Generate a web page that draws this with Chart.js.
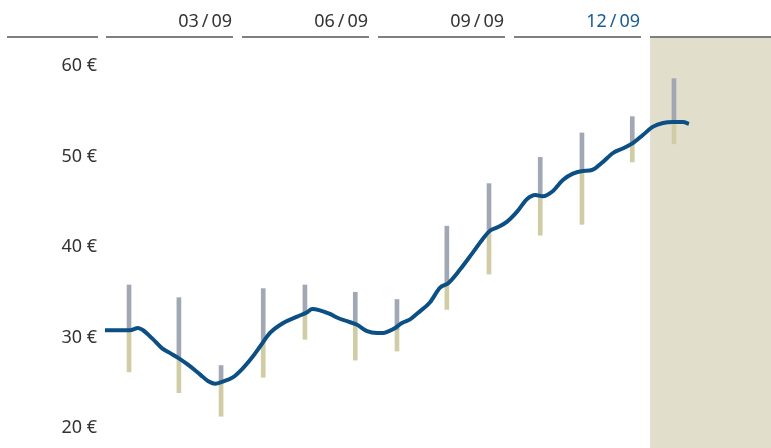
<!DOCTYPE html>
<html>
  <head>
    <meta charset="utf-8" />
    <title>price range</title>
    <script src="https://cdn.jsdelivr.net/npm/chart.js"></script>
    <style>
      html, body { margin: 0; padding: 0; background: #fff; overflow: hidden; }
      canvas { display: block; }
    </style>
  </head>
  <body>
    <canvas id="priceChart" width="771" height="448"></canvas>
    <script type="text/javascript">
      // month position (0 = start of jan 09) and price of the line
      var lineMonths = [0.00, 0.55, 0.73, 0.84, 1.04, 1.26, 1.43, 1.63, 1.83, 2.10, 2.27, 2.43, 2.58, 2.82,
        3.04, 3.26, 3.42, 3.64, 3.93, 4.24, 4.46, 4.57, 4.74, 4.96, 5.14, 5.34, 5.56, 5.78,
        6.00, 6.13, 6.35, 6.55, 6.73, 6.90, 7.17, 7.39, 7.57, 7.83, 8.10, 8.32, 8.49, 8.67, 8.87,
        9.09, 9.31, 9.49, 9.66, 9.86, 10.10, 10.32, 10.54, 10.74, 10.96, 11.21, 11.43, 11.65, 11.87,
        12.09, 12.31, 12.53, 12.75, 12.88]
      var linePrices = [30.8, 30.8, 31.05, 30.8, 29.9, 28.8, 28.3, 27.7, 27.0, 25.9, 25.2, 24.9, 25.1, 25.6,
        26.6, 27.9, 29.0, 30.5, 31.6, 32.3, 32.8, 33.15, 33.0, 32.6, 32.15, 31.8, 31.4, 30.7,
        30.5, 30.5, 30.9, 31.6, 32.0, 32.7, 33.9, 35.5, 36.0, 37.5, 39.3, 40.8, 41.8, 42.2, 42.8,
        43.9, 45.3, 45.75, 45.6, 46.1, 47.4, 48.1, 48.4, 48.5, 49.3, 50.4, 50.9, 51.5, 52.4,
        53.3, 53.7, 53.8, 53.8, 53.6]

      // monthly ranges: high, split, low
      var rangeMonths = [0.53, 1.63, 2.56, 3.49, 4.41, 5.52, 6.44, 7.54, 8.47, 9.60, 10.52, 11.63, 12.55]
      var rangeHigh = [35.8, 34.4, 26.9, 35.4, 35.8, 35.0, 34.2, 42.3, 47.0, 49.9, 52.6, 54.4, 58.6]
      var rangeMid = [30.8, 27.7, 25.1, 29.7, 32.7, 31.4, 30.9, 35.8, 42.0, 45.5, 48.3, 51.5, 53.9]
      var rangeLow = [26.2, 23.9, 21.3, 25.6, 29.8, 27.5, 28.5, 33.1, 37.0, 41.3, 42.5, 49.4, 51.4]

      var quarterLabels = ['03\u2009/\u200909', '06\u2009/\u200909', '09\u2009/\u200909', '12\u2009/\u200909']
      var yTicks = [20, 30, 40, 50, 60]
      var forecastStart = 12

      var linePoints = lineMonths.map(function (m, i) { return { x: m, y: linePrices[i] } })
      var upperBars = rangeMonths.map(function (m, i) { return { x: m, y: [rangeMid[i], rangeHigh[i]] } })
      var lowerBars = rangeMonths.map(function (m, i) { return { x: m, y: [rangeLow[i], rangeMid[i]] } })

      var fontFamily = '"Noto Sans", sans-serif'

      var headerPlugin = {
        id: 'header',
        beforeDatasetsDraw: function (chart) {
          var ctx = chart.ctx
          var x = chart.scales.x
          var area = chart.chartArea
          var x0 = x.getPixelForValue(forecastStart)
          ctx.save()
          ctx.fillStyle = '#e1dfcc'
          ctx.fillRect(x0 + 1, area.top, area.right - x0 - 1, area.bottom - area.top)
          ctx.restore()
        },
        afterDraw: function (chart) {
          var ctx = chart.ctx
          var x = chart.scales.x
          var lineY = 37
          ctx.save()
          ctx.strokeStyle = '#555'
          ctx.lineWidth = 1.5
          ctx.beginPath()
          ctx.moveTo(7, lineY)
          ctx.lineTo(98, lineY)
          for (var q = 0; q < 4; q++) {
            ctx.moveTo(x.getPixelForValue(q * 3) + 1, lineY)
            ctx.lineTo(x.getPixelForValue(q * 3 + 3) - 8, lineY)
          }
          ctx.moveTo(x.getPixelForValue(forecastStart) + 1, lineY)
          ctx.lineTo(chart.width, lineY)
          ctx.stroke()

          ctx.font = '18px ' + fontFamily
          ctx.textAlign = 'right'
          ctx.textBaseline = 'alphabetic'
          for (var q = 0; q < 4; q++) {
            ctx.fillStyle = q == 3 ? '#1a5c96' : '#333'
            ctx.fillText(quarterLabels[q], x.getPixelForValue(q * 3 + 3) - 9, 27)
          }
          ctx.restore()
        }
      }

      var ctx = document.getElementById('priceChart').getContext('2d')
      new Chart(ctx, {
        type: 'line',
        data: {
          datasets: [{
            type: 'line',
            data: linePoints,
            borderColor: '#0b4f85',
            borderWidth: 4,
            pointRadius: 0,
            tension: 0.4,
            cubicInterpolationMode: 'monotone',
            order: 0,
          }, {
            type: 'bar',
            data: upperBars,
            backgroundColor: '#a1a7b3',
            barThickness: 4,
            grouped: false,
            order: 1,
          }, {
            type: 'bar',
            data: lowerBars,
            backgroundColor: '#d0cca6',
            barThickness: 4,
            grouped: false,
            order: 2,
          }]
        },
        options: {
          responsive: false,
          animation: false,
          layout: { padding: { top: 38, left: 0, right: 0, bottom: 0 } },
          plugins: {
            legend: { display: false },
            tooltip: { enabled: false },
          },
          scales: {
            x: {
              type: 'linear',
              min: 0,
              max: 14.69,
              offset: false,
              display: false,
            },
            y: {
              min: 17.79,
              max: 63.09,
              grid: { display: false, drawTicks: false },
              border: { display: false },
              afterBuildTicks: function (scale) {
                scale.ticks = yTicks.map(function (v) { return { value: v } })
              },
              afterFit: function (scale) {
                scale.width = 105
                scale.paddingTop = 0
                scale.paddingBottom = 0
              },
              ticks: {
                padding: 8,
                color: '#333',
                font: { family: fontFamily, size: 18 },
                callback: function (v) { return v + ' €' },
              },
            },
          },
        },
        plugins: [headerPlugin],
      })
    </script>
  </body>
</html>
